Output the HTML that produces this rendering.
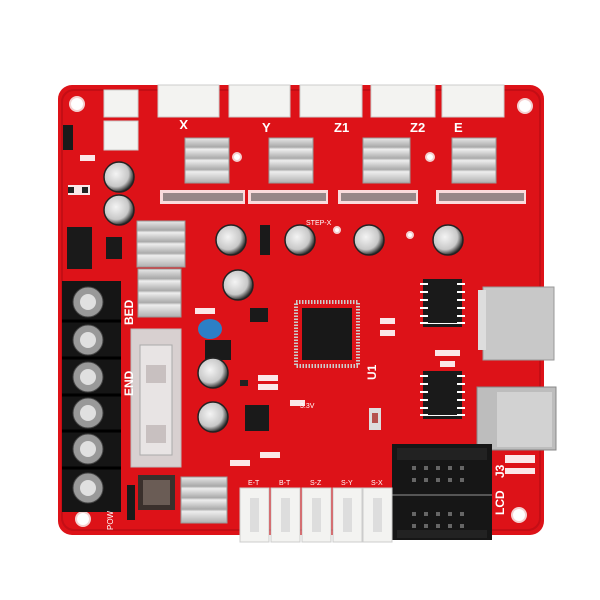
<!DOCTYPE html>
<html><head><style>
html,body{margin:0;padding:0;background:#fff;width:600px;height:600px;overflow:hidden}
svg text{font-family:"Liberation Sans",sans-serif}
</style></head><body>
<svg width="600" height="600" viewBox="0 0 600 600" xmlns="http://www.w3.org/2000/svg">
<defs>
<linearGradient id="hs" x1="0" y1="0" x2="0" y2="1">
<stop offset="0" stop-color="#e8e8e8"/><stop offset="0.2" stop-color="#a8a8a8"/><stop offset="0.25" stop-color="#eee"/><stop offset="0.45" stop-color="#aaa"/><stop offset="0.5" stop-color="#eee"/><stop offset="0.7" stop-color="#aaa"/><stop offset="0.75" stop-color="#eee"/><stop offset="1" stop-color="#b0b0b0"/>
</linearGradient>
<radialGradient id="cap" cx="0.4" cy="0.4" r="0.6"><stop offset="0" stop-color="#f4f4f4"/><stop offset="0.7" stop-color="#c8c8c8"/><stop offset="1" stop-color="#333"/></radialGradient>
</defs>
<rect x="58" y="85" width="486" height="450" rx="14" fill="#dd1218"/>
<rect x="62" y="90" width="478" height="440" rx="12" fill="none" stroke="#c40e15" stroke-width="2"/>
<g fill="#fff" stroke="#f4d0d0" stroke-width="2">
<circle cx="77" cy="104" r="7"/><circle cx="525" cy="106" r="7"/><circle cx="83" cy="519" r="7"/><circle cx="519" cy="515" r="7"/>
<circle cx="237" cy="157" r="4"/><circle cx="430" cy="157" r="4"/><circle cx="337" cy="230" r="3"/><circle cx="410" cy="235" r="3"/>
</g>
<g fill="#f3f3f1" stroke="#ccc">
<rect x="158" y="85" width="61" height="32"/><rect x="229" y="85" width="61" height="32"/><rect x="300" y="85" width="62" height="32"/><rect x="371" y="85" width="64" height="32"/><rect x="442" y="85" width="62" height="32"/>
<rect x="104" y="90" width="34" height="27"/><rect x="104" y="121" width="34" height="29"/>
</g>
<g font-size="13" fill="#fff" font-weight="bold">
<text x="180" y="130" transform="rotate(180 184 125)">X</text>
<text x="262" y="132">Y</text><text x="334" y="132">Z1</text><text x="410" y="132">Z2</text><text x="454" y="132">E</text>
</g>
<g fill="#fff">
<rect x="160" y="190" width="85" height="14" opacity="0.85"/><rect x="248" y="190" width="80" height="14" opacity="0.85"/><rect x="338" y="190" width="80" height="14" opacity="0.85"/><rect x="436" y="190" width="90" height="14" opacity="0.85"/>
</g>
<g fill="#333">
<rect x="163" y="193" width="80" height="8" opacity="0.5"/><rect x="251" y="193" width="75" height="8" opacity="0.5"/><rect x="341" y="193" width="75" height="8" opacity="0.5"/><rect x="439" y="193" width="85" height="8" opacity="0.5"/>
</g>
<g fill="url(#hs)" stroke="#999">
<rect x="185" y="138" width="44" height="45"/><rect x="269" y="138" width="44" height="45"/><rect x="363" y="138" width="47" height="45"/><rect x="452" y="138" width="44" height="45"/>
<rect x="137" y="221" width="48" height="46"/><rect x="138" y="269" width="43" height="48"/><rect x="181" y="477" width="46" height="46"/>
</g>
<g fill="#1a1a1a">
<rect x="67" y="227" width="25" height="42"/><rect x="106" y="237" width="16" height="22"/><rect x="260" y="225" width="10" height="30"/>
<rect x="250" y="308" width="18" height="14"/><rect x="205" y="340" width="26" height="20"/><rect x="245" y="405" width="24" height="26"/>
<rect x="63" y="125" width="10" height="25"/><rect x="127" y="485" width="8" height="35"/>
<rect x="423" y="279" width="39" height="48"/><rect x="423" y="371" width="39" height="48"/>
</g>
<g stroke="#fff" stroke-width="2">
<path d="M420 284h45M420 292h45M420 300h45M420 308h45M420 316h45M420 323h45"/>
<path d="M420 376h45M420 384h45M420 392h45M420 400h45M420 408h45M420 415h45"/>
</g>
<g fill="#1a1a1a"><rect x="428" y="283" width="29" height="40"/><rect x="428" y="375" width="29" height="40"/></g>
<rect x="296" y="302" width="62" height="64" fill="none" stroke="#ccc" stroke-width="4" stroke-dasharray="1.5 1.5"/>
<rect x="302" y="308" width="50" height="52" fill="#181818"/>
<rect x="131" y="329" width="50" height="138" fill="#d8d0d0" stroke="#bbb"/>
<rect x="140" y="345" width="32" height="110" fill="#e8e4e4" stroke="#aaa"/>
<rect x="146" y="365" width="20" height="18" fill="#c8c0c0"/><rect x="146" y="425" width="20" height="18" fill="#c8c0c0"/>
<rect x="138" y="475" width="37" height="35" fill="#3a302c"/><rect x="143" y="480" width="27" height="25" fill="#6a5c55"/>
<rect x="62" y="281" width="59" height="231" fill="#151515"/>
<g fill="#999" stroke="#444">
<circle cx="88" cy="302" r="15"/><circle cx="88" cy="340" r="15"/><circle cx="88" cy="377" r="15"/><circle cx="88" cy="413" r="15"/><circle cx="88" cy="449" r="15"/><circle cx="88" cy="488" r="15"/>
</g>
<g fill="#e0e0e0"><circle cx="88" cy="302" r="8"/><circle cx="88" cy="340" r="8"/><circle cx="88" cy="377" r="8"/><circle cx="88" cy="413" r="8"/><circle cx="88" cy="449" r="8"/><circle cx="88" cy="488" r="8"/></g>
<g stroke="#000" stroke-width="3"><path d="M62 321h59M62 358h59M62 395h59M62 431h59M62 468h59"/></g>
<g font-size="12" fill="#fff" font-weight="bold">
<text transform="translate(133 325) rotate(-90)">BED</text>
<text transform="translate(133 396) rotate(-90)">END</text>
<text transform="translate(113 530) rotate(-90)" font-size="8" font-weight="normal">POW</text>
</g>
<g fill="url(#cap)" stroke="#222" stroke-width="1.5">
<circle cx="119" cy="177" r="15"/><circle cx="119" cy="210" r="15"/><circle cx="231" cy="240" r="15"/><circle cx="300" cy="240" r="15"/><circle cx="369" cy="240" r="15"/><circle cx="448" cy="240" r="15"/><circle cx="238" cy="285" r="15"/><circle cx="213" cy="373" r="15"/><circle cx="213" cy="417" r="15"/>
</g>
<ellipse cx="210" cy="329" rx="12" ry="10" fill="#2c7fc6"/>
<rect x="369" y="408" width="12" height="22" fill="#ddd"/><rect x="372" y="413" width="6" height="10" fill="#b5524e"/>
<rect x="483" y="287" width="71" height="73" fill="#c8c8c8" stroke="#999"/><rect x="478" y="290" width="8" height="60" fill="#ddd"/>
<rect x="477" y="387" width="79" height="63" fill="#bdbdbd" stroke="#888"/><rect x="497" y="392" width="55" height="55" fill="#d2d2d2"/>
<rect x="392" y="444" width="100" height="52" fill="#161616"/><rect x="392" y="496" width="100" height="44" fill="#161616"/>
<rect x="397" y="448" width="90" height="12" fill="#222"/>
<path d="M392 495h100" stroke="#555" stroke-width="2"/>
<rect x="397" y="530" width="90" height="8" fill="#222"/>
<g fill="#666">
<rect x="412" y="466" width="4" height="4"/><rect x="424" y="466" width="4" height="4"/><rect x="436" y="466" width="4" height="4"/><rect x="448" y="466" width="4" height="4"/><rect x="460" y="466" width="4" height="4"/>
<rect x="412" y="478" width="4" height="4"/><rect x="424" y="478" width="4" height="4"/><rect x="436" y="478" width="4" height="4"/><rect x="448" y="478" width="4" height="4"/><rect x="460" y="478" width="4" height="4"/>
<rect x="412" y="512" width="4" height="4"/><rect x="424" y="512" width="4" height="4"/><rect x="436" y="512" width="4" height="4"/><rect x="448" y="512" width="4" height="4"/><rect x="460" y="512" width="4" height="4"/>
<rect x="412" y="524" width="4" height="4"/><rect x="424" y="524" width="4" height="4"/><rect x="436" y="524" width="4" height="4"/><rect x="448" y="524" width="4" height="4"/><rect x="460" y="524" width="4" height="4"/>
</g>
<g font-size="12" fill="#fff" font-weight="bold">
<text transform="translate(504 515) rotate(-90)">LCD</text>
<text transform="translate(504 478) rotate(-90)">J3</text>
<text transform="translate(376 380) rotate(-90)">U1</text>
</g>
<g fill="#f3f3f1" stroke="#ccc">
<rect x="240" y="488" width="29" height="54"/><rect x="271" y="488" width="29" height="54"/><rect x="302" y="488" width="29" height="54"/><rect x="333" y="488" width="29" height="54"/><rect x="363" y="488" width="29" height="54"/>
</g>
<g fill="#ddd">
<rect x="250" y="498" width="9" height="34"/><rect x="281" y="498" width="9" height="34"/><rect x="312" y="498" width="9" height="34"/><rect x="343" y="498" width="9" height="34"/><rect x="373" y="498" width="9" height="34"/>
</g>
<g font-size="7" fill="#fff">
<text x="248" y="485">E-T</text><text x="279" y="485">B-T</text><text x="310" y="485">S-Z</text><text x="341" y="485">S-Y</text><text x="371" y="485">S-X</text>
<text x="306" y="225">STEP-X</text><text x="300" y="408">3.3V</text>
</g>
<g fill="#fff" opacity="0.9">
<rect x="258" y="375" width="20" height="6"/><rect x="258" y="384" width="20" height="6"/><rect x="195" y="308" width="20" height="6"/><rect x="230" y="460" width="20" height="6"/>
<rect x="260" y="452" width="20" height="6"/><rect x="435" y="350" width="25" height="6"/><rect x="440" y="361" width="15" height="6"/>
<rect x="380" y="318" width="15" height="6"/><rect x="380" y="330" width="15" height="6"/><rect x="290" y="400" width="15" height="6"/>
<rect x="505" y="455" width="30" height="8"/><rect x="505" y="468" width="30" height="6"/>
<rect x="80" y="155" width="15" height="6"/><rect x="68" y="185" width="15" height="10"/><rect x="80" y="185" width="10" height="10"/>
</g>
<g fill="#222"><rect x="68" y="187" width="6" height="6"/><rect x="82" y="187" width="6" height="6"/><rect x="240" y="380" width="8" height="6"/></g>
</svg>
</body></html>
